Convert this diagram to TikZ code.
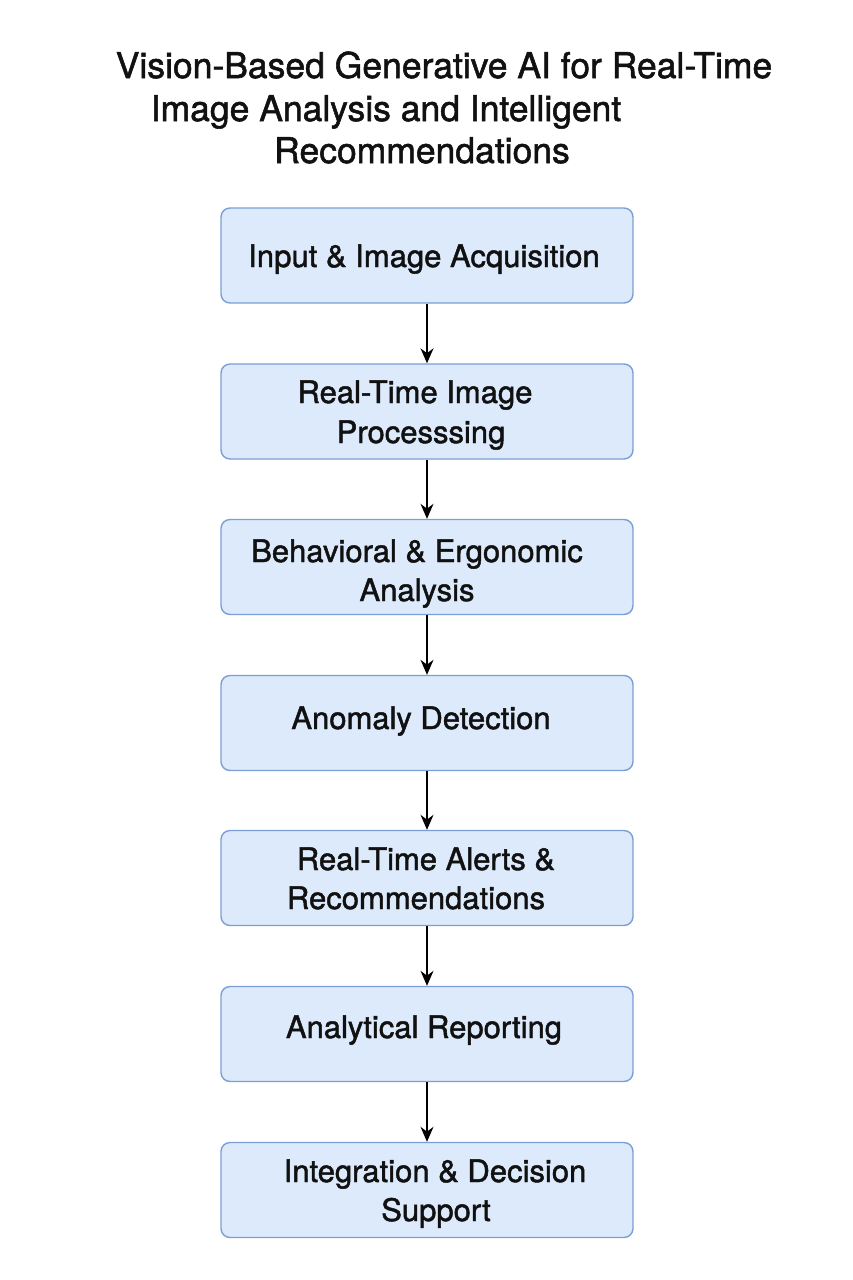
\documentclass[tikz,border=0pt]{standalone}
\usepackage{fontspec}
\setmainfont{TeX Gyre Heros}[FakeBold=1.5]
\usetikzlibrary{arrows.meta}
\definecolor{boxfill}{HTML}{DCEAFB}
\definecolor{boxline}{HTML}{7B9FD4}
\definecolor{txtcol}{HTML}{111111}
\tikzset{
  stepbox/.style={draw=boxline, fill=boxfill, line width=1.4pt, rounded corners=9pt,
    minimum width=412pt, minimum height=95pt, inner sep=0pt},
  boxtext/.style={text=txtcol, font=\fontsize{31}{40}\selectfont, anchor=base, inner sep=0pt},
  titletext/.style={text=txtcol, font=\fontsize{35.5}{42}\selectfont, anchor=base, inner sep=0pt},
  flow/.style={-{Stealth[length=15pt,width=13pt]}, line width=1.4pt, black}
}
\begin{document}
\begin{tikzpicture}[x=1pt,y=-1pt]
\useasboundingbox (0,0) rectangle (853,1280);
\fill[white] (0,0) rectangle (853,1280);
% title
\node[titletext] (t1) at (444,78) {Vision-Based Generative AI for Real-Time};
\node[titletext] (t2) at (386,121) {Image Analysis and Intelligent};
\node[titletext] (t3) at (422,163) {Recommendations};
% boxes
\node[stepbox] (b1) at (427,255.5) {};
\node[stepbox] (b2) at (427,411.5) {};
\node[stepbox] (b3) at (427,567) {};
\node[stepbox] (b4) at (427,723) {};
\node[stepbox] (b5) at (427,878) {};
\node[stepbox] (b6) at (427,1034) {};
\node[stepbox] (b7) at (427,1190) {};
% texts
\node[boxtext] (l1) at (424,267) {Input \& Image Acquisition};
\node[boxtext] (l2a) at (415,403) {Real-Time Image};
\node[boxtext] (l2b) at (421,443) {Processsing};
\node[boxtext] (l3a) at (417,562) {Behavioral \& Ergonomic};
\node[boxtext] (l3b) at (417,601) {Analysis};
\node[boxtext] (l4) at (421,729) {Anomaly Detection};
\node[boxtext] (l5a) at (426,870) {Real-Time Alerts \&};
\node[boxtext] (l5b) at (416,909) {Recommendations};
\node[boxtext] (l6) at (424,1038) {Analytical Reporting};
\node[boxtext] (l7a) at (435,1182) {Integration \& Decision};
\node[boxtext] (l7b) at (436,1221) {Support};
% arrows
\draw[flow] (b1.south) -- (b2.north);
\draw[flow] (b2.south) -- (b3.north);
\draw[flow] (b3.south) -- (b4.north);
\draw[flow] (b4.south) -- (b5.north);
\draw[flow] (b5.south) -- (b6.north);
\draw[flow] (b6.south) -- (b7.north);
\end{tikzpicture}
\end{document}
